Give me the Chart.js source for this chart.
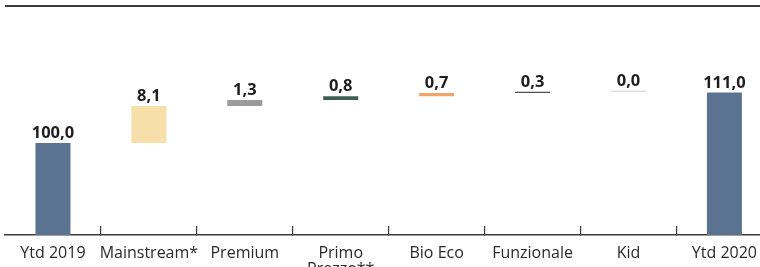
<!DOCTYPE html>
<html>
<head>
<meta charset="utf-8">
<script src="https://cdn.jsdelivr.net/npm/chart.js@4/dist/chart.umd.min.js"></script>
<style>
  html, body { margin: 0; padding: 0; background: #fff; overflow: hidden; }
  #frame { position: relative; width: 760px; height: 267px; overflow: hidden; background: #fff; }
  #topline { position: absolute; left: 5px; right: 0; top: 5px; height: 2px; background: #3a3a3a; }
  #c { position: absolute; left: 0; top: 0; }
</style>
</head>
<body>
<div id="frame">
  <div id="topline"></div>
  <canvas id="c" width="776" height="296"></canvas>
</div>
<script>
// ---- data ----
const categories = ['Ytd 2019', 'Mainstream*', 'Premium', ['Primo', 'Prezzo**'], 'Bio Eco', 'Funzionale', 'Kid', 'Ytd 2020'];
const values = [100.0, 8.1, 1.3, 0.8, 0.7, 0.3, 0.0, 111.0];
const isTotal = [true, false, false, false, false, false, false, true];
const barColors = ['#5b7291', '#f8dfaa', '#9c9c9c', '#3f5e55', '#f0a468', '#505050', '#cfcfcf', '#5b7291'];

// waterfall ranges built from the values
const ranges = [];
let running = 0;
values.forEach((v, i) => {
  if (isTotal[i]) { ranges.push([0, v]); running = v; }
  else { ranges.push([running, running + v]); running += v; }
});

const valueLabels = {
  id: 'valueLabels',
  afterDatasetsDraw(chart) {
    const ctx = chart.ctx;
    const meta = chart.getDatasetMeta(0);
    ctx.save();
    ctx.font = 'bold 16.5px "Open Sans", sans-serif';
    ctx.fillStyle = '#1e1e1e';
    ctx.textAlign = 'center';
    ctx.textBaseline = 'alphabetic';
    meta.data.forEach((el, i) => {
      const top = Math.min(el.y, el.base);
      ctx.fillText(values[i].toFixed(1).replace('.', ','), el.x, top - 5);
    });
    ctx.restore();
  }
};

new Chart(document.getElementById('c'), {
  type: 'bar',
  data: {
    labels: categories,
    datasets: [{
      data: ranges,
      backgroundColor: barColors,
      borderWidth: 0,
      categoryPercentage: 1,
      barPercentage: 0.365,
      minBarLength: 1
    }]
  },
  options: {
    responsive: false,
    animation: false,
    devicePixelRatio: 1,
    layout: { padding: { left: 5, right: 0, top: 8, bottom: 0 } },
    plugins: { legend: { display: false }, tooltip: { enabled: false } },
    scales: {
      y: { display: false, min: 80, max: 129.4 },
      x: {
        offset: true,
        border: { display: true, color: '#3c3c3c', width: 1.5 },
        grid: {
          offset: true,
          drawOnChartArea: false,
          drawTicks: true,
          tickLength: -9,
          lineWidth: 1.2,
          color: (c) => (c.index === 0 ? 'rgba(0,0,0,0)' : '#3c3c3c')
        },
        ticks: {
          autoSkip: false,
          maxRotation: 0,
          padding: 19,
          color: '#2a2a2a',
          font: { family: '"Open Sans", sans-serif', size: 16, lineHeight: 1.0 }
        }
      }
    }
  },
  plugins: [valueLabels]
});
</script>
</body>
</html>
